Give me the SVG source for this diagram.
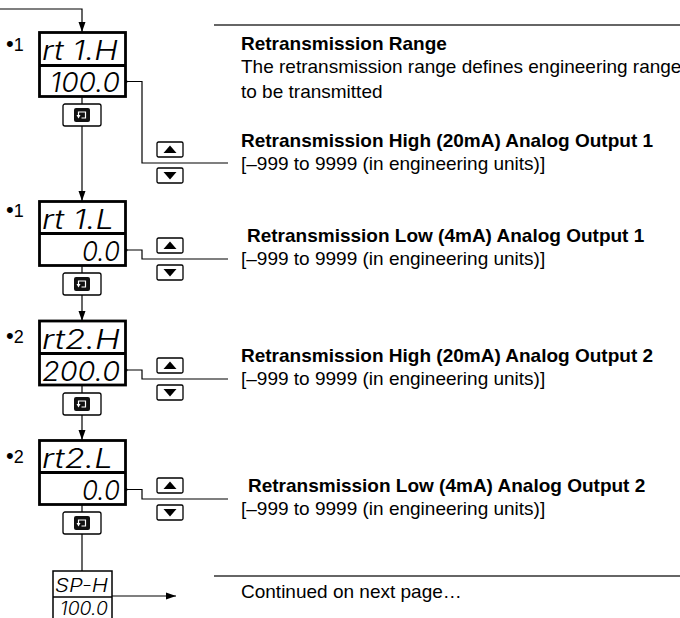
<svg xmlns="http://www.w3.org/2000/svg" width="680" height="618" viewBox="0 0 680 618">
<style>
.box{fill:#fff;stroke:#000;stroke-width:2.8}
.div{stroke:#000;stroke-width:2.8}
.seg{font-family:Inter,"DejaVu Sans",sans-serif;font-style:italic;font-weight:300;font-size:27px;fill:#000}
.segs{font-family:Inter,"DejaVu Sans",sans-serif;font-style:italic;font-weight:300;font-size:18px;fill:#000}
.ln{fill:none;stroke:#000;stroke-width:1.2}
.rule{fill:none;stroke:#333;stroke-width:1.5}
.t{font-family:"Liberation Sans",Arial,sans-serif;font-size:19px;fill:#000}
.b{font-weight:bold}
.lbl{font-family:"Liberation Sans",Arial,sans-serif;font-size:18px;fill:#000}
.bul{font-size:22px}
</style>
<defs>
<marker id="ah" viewBox="0 0 10 8" refX="10" refY="4" markerWidth="10" markerHeight="8" markerUnits="userSpaceOnUse" orient="auto"><path d="M0,0.5 L10,4 L0,7.5 z" fill="#000"/></marker>
<g id="loopbtn">
<rect x="-19" y="0" width="38" height="22" rx="2" fill="#fff" stroke="#000" stroke-width="1.3"/>
<rect x="-8" y="4" width="16" height="14" rx="2" fill="#111"/>
<path d="M-0.5,14 H3.5 V8 H-3.5 V11.5" fill="none" stroke="#fff" stroke-width="1.2"/>
<path d="M-5.5,11 H-1.5 L-3.5,14.5 z" fill="#fff"/>
</g>
<g id="up">
<rect x="0" y="0" width="26" height="15" rx="1.5" fill="#fff" stroke="#000" stroke-width="1.3"/>
<path d="M13,3.5 L19.5,11 L6.5,11 z" fill="#000"/>
</g>
<g id="down">
<rect x="0" y="0" width="26" height="15" rx="1.5" fill="#fff" stroke="#000" stroke-width="1.3"/>
<path d="M6.5,4 L19.5,4 L13,11.5 z" fill="#000"/>
</g>
</defs>

<g id="connectors">
<path class="ln" d="M0,9 H82 V32" marker-end="url(#ah)"/>
<path class="ln" d="M82,96.5 V104"/>
<path class="ln" d="M82,126 V201" marker-end="url(#ah)"/>
<path class="ln" d="M82,265.5 V273"/>
<path class="ln" d="M82,295 V321" marker-end="url(#ah)"/>
<path class="ln" d="M82,385 V393"/>
<path class="ln" d="M82,415 V440" marker-end="url(#ah)"/>
<path class="ln" d="M82,504.5 V512"/>
<path class="ln" d="M82,534 V571"/>
<path class="ln" d="M112,596 H176" marker-end="url(#ah)"/>
<path class="ln" d="M126,81.5 H142 V163 H228"/>
<path class="ln" d="M126,250 H142 V259 H228"/>
<path class="ln" d="M126,370 H142 V379 H228"/>
<path class="ln" d="M126,489.5 H142 V499 H228"/>
<circle cx="126" cy="81.5" r="1.6"/>
<circle cx="126" cy="250" r="1.6"/>
<circle cx="126" cy="370" r="1.6"/>
<circle cx="126" cy="489.5" r="1.6"/>
</g>

<g id="rt1H">
<text class="lbl" x="6" y="51"><tspan class="bul">•</tspan>1</text>
<rect class="box" x="39.5" y="32.5" width="86" height="64"/>
<line class="div" x1="39.5" y1="65.5" x2="125.5" y2="65.5"/>
<text class="seg" x="42" y="60" textLength="76" lengthAdjust="spacingAndGlyphs">rt 1.H</text>
<text class="seg" x="50" y="92" textLength="70" lengthAdjust="spacingAndGlyphs">100.0</text>
<use href="#loopbtn" x="82" y="104"/>
<use href="#up" x="157" y="142"/>
<use href="#down" x="157" y="168"/>
</g>

<g id="rt1L">
<text class="lbl" x="6" y="217"><tspan class="bul">•</tspan>1</text>
<rect class="box" x="39.5" y="201.5" width="86" height="64"/>
<line class="div" x1="39.5" y1="233.5" x2="125.5" y2="233.5"/>
<text class="seg" x="42" y="229" textLength="72" lengthAdjust="spacingAndGlyphs">rt 1.L</text>
<text class="seg" x="82" y="261" textLength="38" lengthAdjust="spacingAndGlyphs">0.0</text>
<use href="#loopbtn" x="82" y="273"/>
<use href="#up" x="157" y="238"/>
<use href="#down" x="157" y="265"/>
</g>

<g id="rt2H">
<text class="lbl" x="6" y="343"><tspan class="bul">•</tspan>2</text>
<rect class="box" x="39.5" y="321" width="86" height="64"/>
<line class="div" x1="39.5" y1="353.5" x2="125.5" y2="353.5"/>
<text class="seg" x="42" y="349" textLength="78" lengthAdjust="spacingAndGlyphs">rt2.H</text>
<text class="seg" x="42" y="381" textLength="78" lengthAdjust="spacingAndGlyphs">200.0</text>
<use href="#loopbtn" x="82" y="393"/>
<use href="#up" x="157" y="358"/>
<use href="#down" x="157" y="385"/>
</g>

<g id="rt2L">
<text class="lbl" x="6" y="463"><tspan class="bul">•</tspan>2</text>
<rect class="box" x="39.5" y="440.5" width="86" height="64"/>
<line class="div" x1="39.5" y1="472.5" x2="125.5" y2="472.5"/>
<text class="seg" x="42" y="468" textLength="71" lengthAdjust="spacingAndGlyphs">rt2.L</text>
<text class="seg" x="82" y="500" textLength="38" lengthAdjust="spacingAndGlyphs">0.0</text>
<use href="#loopbtn" x="82" y="512"/>
<use href="#up" x="157" y="478"/>
<use href="#down" x="157" y="505"/>
</g>

<g id="spH">
<rect x="53" y="571" width="59" height="60" fill="#fff" stroke="#000" stroke-width="1.5"/>
<line x1="53" y1="597" x2="112" y2="597" stroke="#000" stroke-width="1.5"/>
<text class="segs" x="55" y="592" textLength="53" lengthAdjust="spacingAndGlyphs">SP-H</text>
<text class="segs" x="60" y="615" textLength="48" lengthAdjust="spacingAndGlyphs">100.0</text>
</g>

<g id="text">
<line class="rule" x1="214" y1="25" x2="680" y2="25"/>
<text class="t b" x="241" y="50">Retransmission Range</text>
<text class="t" x="241" y="73">The retransmission range defines engineering range</text>
<text class="t" x="241" y="98">to be transmitted</text>
<text class="t b" x="241" y="147">Retransmission High (20mA) Analog Output 1</text>
<text class="t" x="241" y="170">[–999 to 9999 (in engineering units)]</text>
<text class="t b" x="247" y="242">Retransmission Low (4mA) Analog Output 1</text>
<text class="t" x="241" y="265">[–999 to 9999 (in engineering units)]</text>
<text class="t b" x="241" y="362">Retransmission High (20mA) Analog Output 2</text>
<text class="t" x="241" y="385">[–999 to 9999 (in engineering units)]</text>
<text class="t b" x="248" y="492">Retransmission Low (4mA) Analog Output 2</text>
<text class="t" x="241" y="515">[–999 to 9999 (in engineering units)]</text>
<line class="rule" x1="214" y1="576" x2="680" y2="576"/>
<text class="t" x="241" y="598">Continued on next page…</text>
</g>
</svg>
